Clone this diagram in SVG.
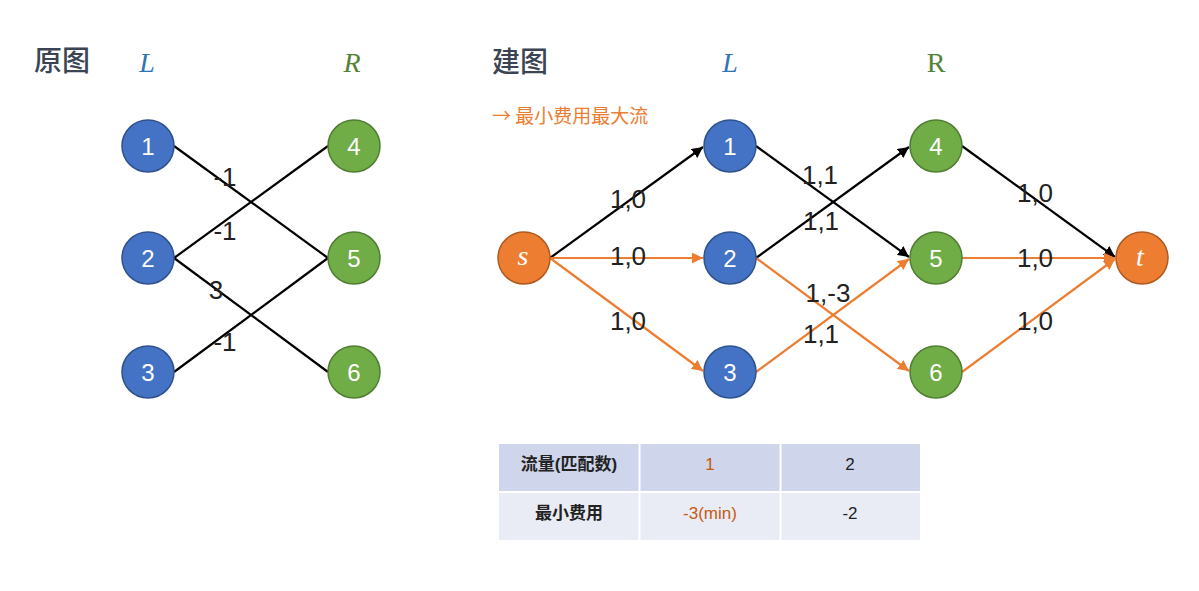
<svg xmlns="http://www.w3.org/2000/svg" width="1199" height="591" viewBox="0 0 1199 591">
<style>
.title{font-family:"Noto Sans CJK SC","Noto Sans CJK JP",sans-serif;font-size:28px;fill:#3b4453;font-weight:500}
.var{font-family:"Liberation Serif",serif;font-style:italic;font-size:28px}
.nl{font-family:"Liberation Sans","Noto Sans CJK SC",sans-serif;font-size:24px;fill:#fff;text-anchor:middle;dominant-baseline:central}
.it{font-family:"Liberation Serif",serif;font-style:italic;font-size:28px}
.el{font-family:"Liberation Sans",sans-serif;font-size:26px;fill:#222;text-anchor:middle;dominant-baseline:central}
.blue{fill:#4472c4;stroke:#2f528f;stroke-width:1.5}
.green{fill:#70ad47;stroke:#507e32;stroke-width:1.5}
.orange{fill:#ed7d31;stroke:#ae5a21;stroke-width:1.5}
.bk{stroke:#000;stroke-width:2.2;fill:none}
.or{stroke:#ed7d31;stroke-width:2.2;fill:none}
.tb{font-family:"Liberation Sans","Noto Sans CJK SC",sans-serif;font-size:17px;text-anchor:middle;dominant-baseline:central;fill:#222}
</style>
<defs>
<marker id="ab" viewBox="0 0 10 10" refX="10" refY="5" markerWidth="5" markerHeight="5" orient="auto" markerUnits="strokeWidth"><path d="M0,0 L10,5 L0,10 z" fill="#000"/></marker>
<marker id="ao" viewBox="0 0 10 10" refX="10" refY="5" markerWidth="5" markerHeight="5" orient="auto" markerUnits="strokeWidth"><path d="M0,0 L10,5 L0,10 z" fill="#ed7d31"/></marker>
</defs>
<rect width="1199" height="591" fill="#fff"/>
<!-- headings -->
<text class="title" x="34" y="71">原图</text>
<text class="var" x="147" y="72" fill="#2e75b6" text-anchor="middle">L</text>
<text class="var" x="352" y="72" fill="#548235" text-anchor="middle">R</text>
<text class="title" x="492" y="72">建图</text>
<text class="var" x="730" y="72" fill="#2e75b6" text-anchor="middle">L</text>
<text x="936" y="72" fill="#548235" text-anchor="middle" style="font-family:'Liberation Serif',serif;font-size:28px">R</text>
<text x="492" y="123" style="font-family:'Noto Sans CJK SC',sans-serif;font-size:19px" fill="#ed7d31">→ 最小费用最大流</text>
<!-- connectors -->
<g id="connectors">
<line class="bk" x1="174" y1="146" x2="328" y2="258"/>
<line class="bk" x1="174" y1="258" x2="328" y2="146"/>
<line class="bk" x1="174" y1="258" x2="328" y2="372"/>
<line class="bk" x1="174" y1="372" x2="328" y2="258"/>
<line class="bk" x1="550" y1="258" x2="703" y2="147" marker-end="url(#ab)"/>
<line class="or" x1="550" y1="258" x2="703" y2="258" marker-end="url(#ao)"/>
<line class="or" x1="550" y1="258" x2="703" y2="371" marker-end="url(#ao)"/>
<line class="bk" x1="756" y1="146" x2="909" y2="257" marker-end="url(#ab)"/>
<line class="bk" x1="756" y1="258" x2="909" y2="147" marker-end="url(#ab)"/>
<line class="or" x1="756" y1="258" x2="909" y2="371" marker-end="url(#ao)"/>
<line class="or" x1="756" y1="372" x2="909" y2="259" marker-end="url(#ao)"/>
<line class="bk" x1="962" y1="146" x2="1115" y2="257" marker-end="url(#ab)"/>
<line class="or" x1="962" y1="258" x2="1115" y2="258" marker-end="url(#ao)"/>
<line class="or" x1="962" y1="372" x2="1115" y2="259" marker-end="url(#ao)"/>
</g>
<!-- edge labels -->
<g id="edge-labels">
<text class="el" x="225" y="177">-1</text>
<text class="el" x="225" y="231">-1</text>
<text class="el" x="216" y="290">3</text>
<text class="el" x="225" y="342">-1</text>
<text class="el" x="628" y="199">1,0</text>
<text class="el" x="628" y="256">1,0</text>
<text class="el" x="628" y="321">1,0</text>
<text class="el" x="820" y="175">1,1</text>
<text class="el" x="821" y="221">1,1</text>
<text class="el" x="828" y="293">1,-3</text>
<text class="el" x="821" y="334">1,1</text>
<text class="el" x="1035" y="193">1,0</text>
<text class="el" x="1035" y="258">1,0</text>
<text class="el" x="1035" y="321">1,0</text>
</g>
<!-- left graph nodes -->
<g id="o1"><circle class="blue" cx="148" cy="146" r="26"/><text class="nl" x="148" y="146">1</text></g>
<g id="o2"><circle class="blue" cx="148" cy="258" r="26"/><text class="nl" x="148" y="258">2</text></g>
<g id="o3"><circle class="blue" cx="148" cy="372" r="26"/><text class="nl" x="148" y="372">3</text></g>
<g id="o4"><circle class="green" cx="354" cy="146" r="26"/><text class="nl" x="354" y="146">4</text></g>
<g id="o5"><circle class="green" cx="354" cy="258" r="26"/><text class="nl" x="354" y="258">5</text></g>
<g id="o6"><circle class="green" cx="354" cy="372" r="26"/><text class="nl" x="354" y="372">6</text></g>
<!-- right graph nodes -->
<g id="s"><circle class="orange" cx="524" cy="258" r="26"/><text class="nl it" x="523" y="255">s</text></g>
<g id="n1"><circle class="blue" cx="730" cy="146" r="26"/><text class="nl" x="730" y="146">1</text></g>
<g id="n2"><circle class="blue" cx="730" cy="258" r="26"/><text class="nl" x="730" y="258">2</text></g>
<g id="n3"><circle class="blue" cx="730" cy="372" r="26"/><text class="nl" x="730" y="372">3</text></g>
<g id="n4"><circle class="green" cx="936" cy="146" r="26"/><text class="nl" x="936" y="146">4</text></g>
<g id="n5"><circle class="green" cx="936" cy="258" r="26"/><text class="nl" x="936" y="258">5</text></g>
<g id="n6"><circle class="green" cx="936" cy="372" r="26"/><text class="nl" x="936" y="372">6</text></g>
<g id="t"><circle class="orange" cx="1142" cy="258" r="26"/><text class="nl it" x="1140" y="256">t</text></g>
<!-- table -->
<g id="table">
<rect x="499" y="444" width="421" height="48" fill="#cfd5ea"/>
<rect x="499" y="492" width="421" height="48" fill="#e9ebf5"/>
<line x1="499" y1="492" x2="920" y2="492" stroke="#fff" stroke-width="2"/>
<line x1="639.5" y1="444" x2="639.5" y2="540" stroke="#fff" stroke-width="2"/>
<line x1="780.5" y1="444" x2="780.5" y2="540" stroke="#fff" stroke-width="2"/>
<text class="tb" x="569" y="464" font-weight="bold">流量(匹配数)</text>
<text class="tb" x="710" y="464" style="fill:#c55a11">1</text>
<text class="tb" x="850" y="464">2</text>
<text class="tb" x="569" y="513" font-weight="bold">最小费用</text>
<text class="tb" x="710" y="513" style="fill:#c55a11">-3(min)</text>
<text class="tb" x="850" y="513">-2</text>
</g>
</svg>
